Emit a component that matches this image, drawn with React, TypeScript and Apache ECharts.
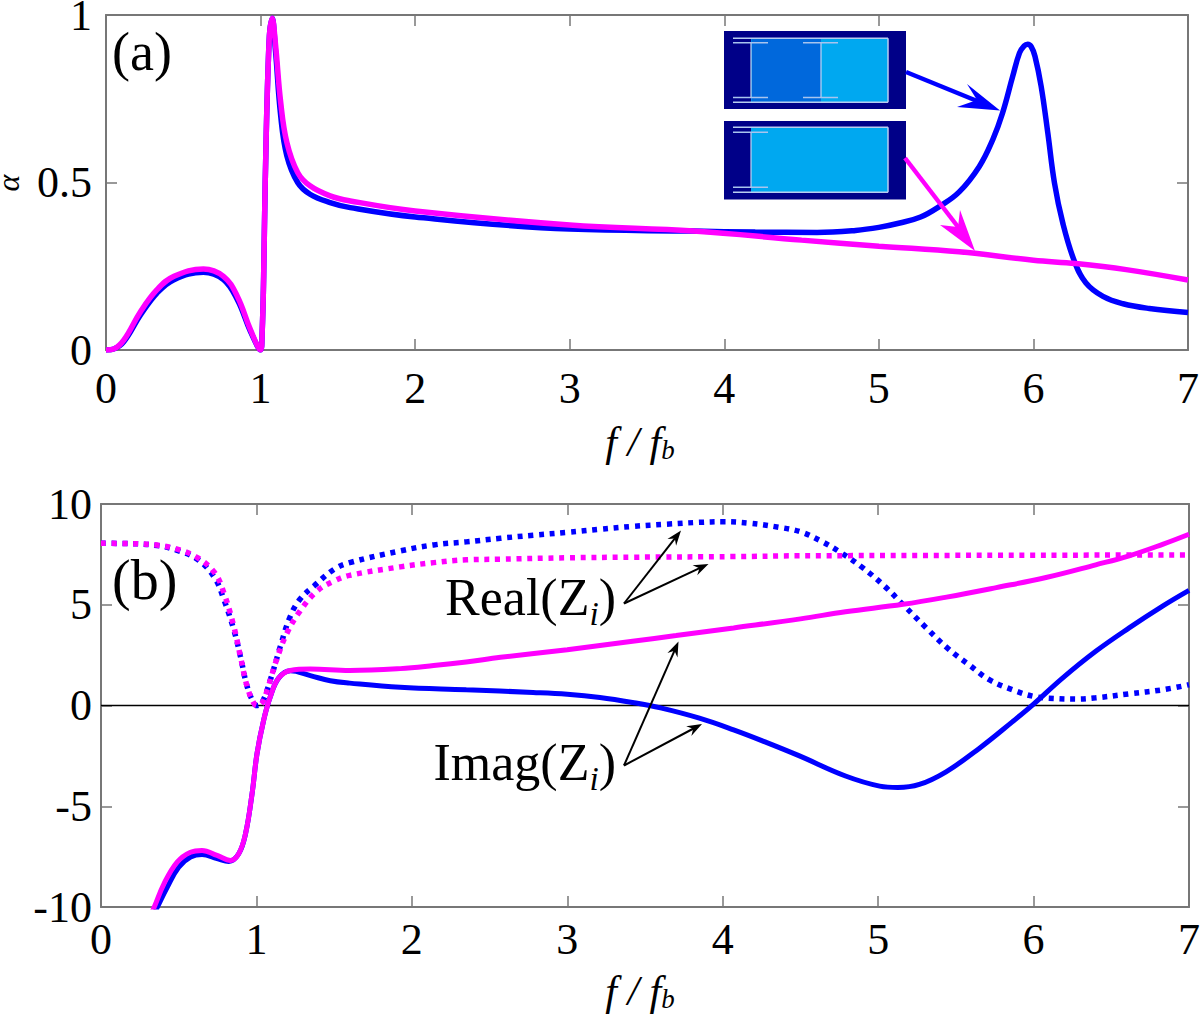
import React, { useEffect, useRef } from 'react'
import * as echarts from 'echarts'

const xTicks = [0, 1, 2, 3, 4, 5, 6, 7]

// panel (a): absorption, [f/fb, alpha]
const alphaBlue = [
  [0, 0], [0.05, 0.003], [0.116, 0.025], [0.224, 0.105], [0.33, 0.17], [0.44, 0.21], [0.63, 0.232], [0.76, 0.21],
  [0.85, 0.15], [0.935, 0.055], [1, 0], [1.01, 0.05], [1.02, 0.22], [1.03, 0.5], [1.055, 0.92], [1.075, 0.99],
  [1.097, 0.89], [1.13, 0.7], [1.17, 0.58], [1.24, 0.5], [1.32, 0.465], [1.45, 0.44], [1.58, 0.425], [2, 0.397],
  [3, 0.361], [3.8, 0.355], [4.2, 0.352], [4.6, 0.351], [4.85, 0.357], [5, 0.366], [5.135, 0.379], [5.27, 0.397],
  [5.39, 0.428], [5.52, 0.472], [5.65, 0.548], [5.737, 0.628], [5.8, 0.707], [5.866, 0.817], [5.91, 0.887],
  [5.94, 0.908], [5.963, 0.913], [5.985, 0.906], [6.01, 0.877], [6.05, 0.787], [6.093, 0.648], [6.136, 0.499],
  [6.19, 0.379], [6.265, 0.265], [6.34, 0.2], [6.45, 0.16], [6.58, 0.138], [6.75, 0.124], [7, 0.112]
]
const alphaMagenta = [
  [0, 0], [0.05, 0.003], [0.116, 0.03], [0.224, 0.115], [0.33, 0.18], [0.44, 0.22], [0.63, 0.242], [0.76, 0.22],
  [0.85, 0.16], [0.935, 0.06], [1, 0], [1.01, 0.05], [1.02, 0.22], [1.03, 0.5], [1.055, 0.92], [1.075, 0.99],
  [1.097, 0.91], [1.13, 0.74], [1.17, 0.62], [1.24, 0.53], [1.32, 0.49], [1.45, 0.46], [1.58, 0.445], [2, 0.415],
  [3, 0.373], [3.8, 0.355], [4.5, 0.328], [5, 0.31], [5.52, 0.293], [6, 0.268], [6.276, 0.258], [6.6, 0.24], [7, 0.209]
]

// panel (b): impedance, [f/fb, Z]
const realBlue = [
  [0, 8.05], [0.148, 8.04], [0.36, 7.94], [0.49, 7.7], [0.62, 7.26], [0.73, 6.35], [0.79, 5.27], [0.854, 3.77],
  [0.897, 2.44], [0.94, 0.95], [0.983, 0.12], [1.004, 0], [1.036, 0.14], [1.09, 1.28], [1.154, 2.94], [1.218, 4.43],
  [1.28, 5.27], [1.37, 5.93], [1.5, 6.76], [1.6, 7.09], [1.925, 7.67], [2.14, 7.97], [2.35, 8.12], [2.57, 8.3],
  [2.78, 8.45], [3, 8.59], [3.21, 8.75], [3.42, 8.89], [3.64, 9.0], [3.85, 9.09], [4, 9.12], [4.17, 9.05],
  [4.366, 8.84], [4.5, 8.62], [4.63, 8.17], [4.76, 7.59], [4.9, 6.84], [5.04, 5.93], [5.17, 4.93], [5.31, 3.85],
  [5.45, 2.82], [5.59, 1.99], [5.715, 1.28], [5.865, 0.78], [6, 0.45], [6.13, 0.35], [6.27, 0.32], [6.4, 0.38],
  [6.615, 0.58], [6.83, 0.78], [7, 1.03]
]
const realMagenta = [
  [0, 8.05], [0.148, 8.04], [0.36, 7.96], [0.49, 7.76], [0.62, 7.34], [0.73, 6.6], [0.79, 5.6], [0.854, 3.94],
  [0.897, 2.44], [0.94, 0.95], [0.983, 0.12], [1.004, 0], [1.036, 0.12], [1.07, 0.78], [1.13, 2.28], [1.197, 3.6],
  [1.28, 4.68], [1.39, 5.68], [1.5, 6.18], [1.6, 6.46], [1.925, 6.88], [2.14, 7.09], [2.35, 7.23], [2.57, 7.26],
  [3, 7.33], [3.42, 7.36], [4.07, 7.39], [4.5, 7.43], [7, 7.47]
]
const imagBlue = [
  [0.3, -11], [0.36, -10.05], [0.426, -9.02], [0.5, -8.02], [0.576, -7.52], [0.65, -7.39], [0.747, -7.6], [0.822, -7.74],
  [0.886, -7.36], [0.93, -6.36], [0.972, -4.37], [1.004, -2.38], [1.047, -0.71], [1.09, 0.45], [1.143, 1.36],
  [1.218, 1.72], [1.347, 1.48], [1.475, 1.23], [1.6, 1.11], [1.925, 0.9], [2.35, 0.78], [2.78, 0.65], [3, 0.56],
  [3.21, 0.4], [3.42, 0.15], [3.6, -0.12], [3.85, -0.63], [4.07, -1.21], [4.28, -1.83], [4.49, -2.49], [4.79, -3.5],
  [5.01, -4.0], [5.126, -4.07], [5.265, -3.92], [5.437, -3.29], [5.65, -2.13], [5.865, -0.8], [6, 0.07], [6.186, 1.36],
  [6.4, 2.69], [6.615, 3.85], [6.83, 4.93], [7, 5.71]
]
const imagMagenta = [
  [0.28, -11], [0.34, -10.05], [0.405, -8.85], [0.49, -7.77], [0.576, -7.28], [0.65, -7.19], [0.747, -7.44], [0.833, -7.69],
  [0.886, -7.36], [0.93, -6.36], [0.972, -4.37], [1.004, -2.38], [1.047, -0.71], [1.09, 0.45], [1.143, 1.36],
  [1.218, 1.74], [1.347, 1.81], [1.6, 1.74], [1.925, 1.83], [2.14, 1.98], [2.35, 2.16], [2.57, 2.39], [3, 2.77],
  [3.42, 3.19], [3.7, 3.47], [4.07, 3.85], [4.5, 4.3], [4.79, 4.65], [5.16, 5.02], [5.44, 5.38], [5.76, 5.85],
  [6.08, 6.35], [6.4, 6.98], [6.615, 7.43], [6.83, 8.0], [7, 8.5]
]
const zeroLine = [[0, 0], [7, 0]]

const SERIF = '"Liberation Serif", serif'
const BLUE = '#0000ff'
const MAGENTA = '#ff00ff'
const AXIS_GRAY = '#777777'
const FRAME = '#b8cdf0'
const NAVY = '#000088'
const CELL = '#00a8f0'

const axisStyle = { lineStyle: { color: AXIS_GRAY, width: 2 } }
const tickStyle = { inside: true, length: 11, lineStyle: { color: AXIS_GRAY, width: 1.5 } }

// bottom/left axis with labels, top/right one just mirrors the ticks
const xAxes = (gridIndex: number, margin: number) => [
  {
    type: 'value', gridIndex, min: 0, max: 7, interval: 1, position: 'bottom',
    axisLine: { show: true, onZero: false, ...axisStyle }, axisTick: tickStyle, splitLine: { show: false },
    axisLabel: {
      color: '#000', fontFamily: SERIF, fontSize: 44, margin, lineHeight: 34,
      formatter: (v: number) => (xTicks.includes(v) ? String(v) : '')
    }
  },
  {
    type: 'value', gridIndex, min: 0, max: 7, interval: 1, position: 'top',
    axisLine: { show: true, onZero: false, ...axisStyle }, axisTick: tickStyle, splitLine: { show: false },
    axisLabel: { show: false }
  }
]
const yAxes = (gridIndex: number, min: number, max: number, interval: number, margin: number) => [
  {
    type: 'value', gridIndex, min, max, interval, position: 'left',
    axisLine: { show: true, onZero: false, ...axisStyle }, axisTick: tickStyle, splitLine: { show: false },
    axisLabel: { color: '#000', fontFamily: SERIF, fontSize: 44, margin, lineHeight: 30 }
  },
  {
    type: 'value', gridIndex, min, max, interval, position: 'right',
    axisLine: { show: true, onZero: false, ...axisStyle }, axisTick: tickStyle, splitLine: { show: false },
    axisLabel: { show: false }
  }
]

const curve = (data: number[][], axis: number, color: string, width: number, dotted = false) => ({
  type: 'line', data, xAxisIndex: axis, yAxisIndex: axis,
  showSymbol: false, symbol: 'none', smooth: 0.4,
  lineStyle: { color, width, type: dotted ? [5, 5.7] : 'solid', cap: 'butt' }
})

const mathRich = (size: number, drop: number) => ({
  n: { fontFamily: SERIF, fontSize: size, fill: '#000' },
  f: { fontFamily: SERIF, fontSize: size, fontStyle: 'italic', fill: '#000' },
  s: { fontFamily: SERIF, fontSize: size * 0.64, fontStyle: 'italic', fill: '#000', verticalAlign: 'bottom', padding: [size * drop, 0, 0, 0] }
})

const label = (x: number, y: number, text: string, size: number, align = 'left', drop = 0.62) => ({
  type: 'text', x, y, z: 20,
  style: { text, align, verticalAlign: 'middle', rich: mathRich(size, drop), fontFamily: SERIF, fontSize: size, fill: '#000' }
})

const line = (x1: number, y1: number, x2: number, y2: number, stroke: string, lineWidth: number) => ({
  type: 'line', z: 12, shape: { x1, y1, x2, y2 }, style: { stroke, lineWidth }
})
const poly = (points: number[][], fill: string) => ({ type: 'polygon', z: 13, shape: { points }, style: { fill } })
const box = (x: number, y: number, width: number, height: number, fill: string) => ({
  type: 'rect', z: 11, shape: { x, y, width, height }, style: { fill }
})

// black arrow with a small stealth head
const blackArrow = (x1: number, y1: number, x2: number, y2: number) => {
  const a = Math.atan2(y2 - y1, x2 - x1)
  const at = (back: number, side: number) => [
    x2 - back * Math.cos(a) - side * Math.sin(a),
    y2 - back * Math.sin(a) + side * Math.cos(a)
  ]
  return [
    line(x1, y1, at(8, 0)[0], at(8, 0)[1], '#000', 2),
    poly([[x2, y2], at(15, 5.5), at(10, 0), at(15, -5.5)], '#000')
  ]
}

const beam = (x: number, top: number, bottom: number) => [
  line(x, top, x, bottom, '#c4d4f0', 1.2),
  line(x - 18, top, x + 17, top, '#a8c4ee', 1.5),
  line(x - 18, bottom, x + 17, bottom, '#a8c4ee', 1.5)
]

// the cell's frame is open on its left side
const cellFrame = (top: number, bottom: number) => [
  line(733, top, 888, top, FRAME, 1.5),
  line(733, bottom, 888, bottom, FRAME, 1.5),
  line(888, top, 888, bottom, FRAME, 1.5)
]

const insets = [
  box(724, 31, 182, 78, NAVY),
  box(751, 38, 137, 64.5, CELL),
  box(751.5, 39, 69.5, 63, '#0068dc'),
  ...cellFrame(38.3, 102.3),
  ...beam(751, 42.7, 97.5),
  ...beam(821, 42.7, 97.5),
  box(724, 121, 182, 78.5, NAVY),
  box(751, 127.5, 137, 65, CELL),
  ...cellFrame(127.3, 192.3),
  ...beam(751, 132.3, 187.3)
]

const annotations = [
  ...insets,
  line(906, 72, 982, 103, BLUE, 4.5),
  poly([[1000, 110.5], [967, 84], [977, 100], [957, 107]], BLUE),
  line(905, 158, 965, 236, MAGENTA, 4.5),
  poly([[975, 251], [960, 210], [958, 227], [940, 225]], MAGENTA),
  ...blackArrow(624, 603.5, 681, 530.5),
  ...blackArrow(624, 603.5, 708.5, 564),
  ...blackArrow(624, 765.5, 678.5, 641.5),
  ...blackArrow(624, 765.5, 702, 724),
  label(112, 52, '(a)', 54),
  label(112, 580, '(b)', 56),
  label(616, 597, '{n|Real(Z}{s|i}{n|)}', 52, 'right'),
  label(616, 762, '{n|Imag(Z}{s|i}{n|)}', 52, 'right'),
  label(640, 442, '{f|f / f}{s|b}', 42, 'center', 0.4),
  label(640, 991, '{f|f / f}{s|b}', 42, 'center', 0.4),
  { type: 'text', x: 8, y: 183, rotation: Math.PI / 2, z: 20, style: { text: 'α', align: 'center', verticalAlign: 'middle', lineHeight: 14, fontFamily: SERIF, fontSize: 32, fontStyle: 'italic', fill: '#000' } }
]

const App: React.FC = () => {
  const chartRef = useRef<HTMLDivElement>(null)

  useEffect(() => {
    if (!chartRef.current) return
    const chart = echarts.init(chartRef.current, undefined, { renderer: 'svg' })

    chart.setOption({
      animation: false,
      backgroundColor: '#ffffff',
      grid: [
        // outerBoundsMode none, otherwise echarts 6 shrinks the grid to keep labels on the page
        { left: 106, right: 12, top: 15, height: 335, outerBoundsMode: 'none' },
        { left: 101, right: 11, top: 504, height: 403, outerBoundsMode: 'none' }
      ],
      xAxis: [...xAxes(0, 21), ...xAxes(1, 15)],
      yAxis: [...yAxes(0, 0, 1, 0.5, 14), ...yAxes(1, -10, 10, 5, 9)],
      series: [
        curve(alphaBlue, 0, BLUE, 5.5),
        curve(alphaMagenta, 0, MAGENTA, 5.5),
        { ...curve(zeroLine, 2, '#000000', 1.5), smooth: false },
        curve(realBlue, 2, BLUE, 5.5, true),
        curve(realMagenta, 2, MAGENTA, 5.5, true),
        curve(imagBlue, 2, BLUE, 5),
        curve(imagMagenta, 2, MAGENTA, 5)
      ],
      graphic: annotations
    })

    return () => {
      chart.dispose()
    }
  }, [])

  return <div ref={chartRef} style={{ position: 'absolute', left: 0, top: 0, width: 1200, height: 1016 }} />
}

export default App
